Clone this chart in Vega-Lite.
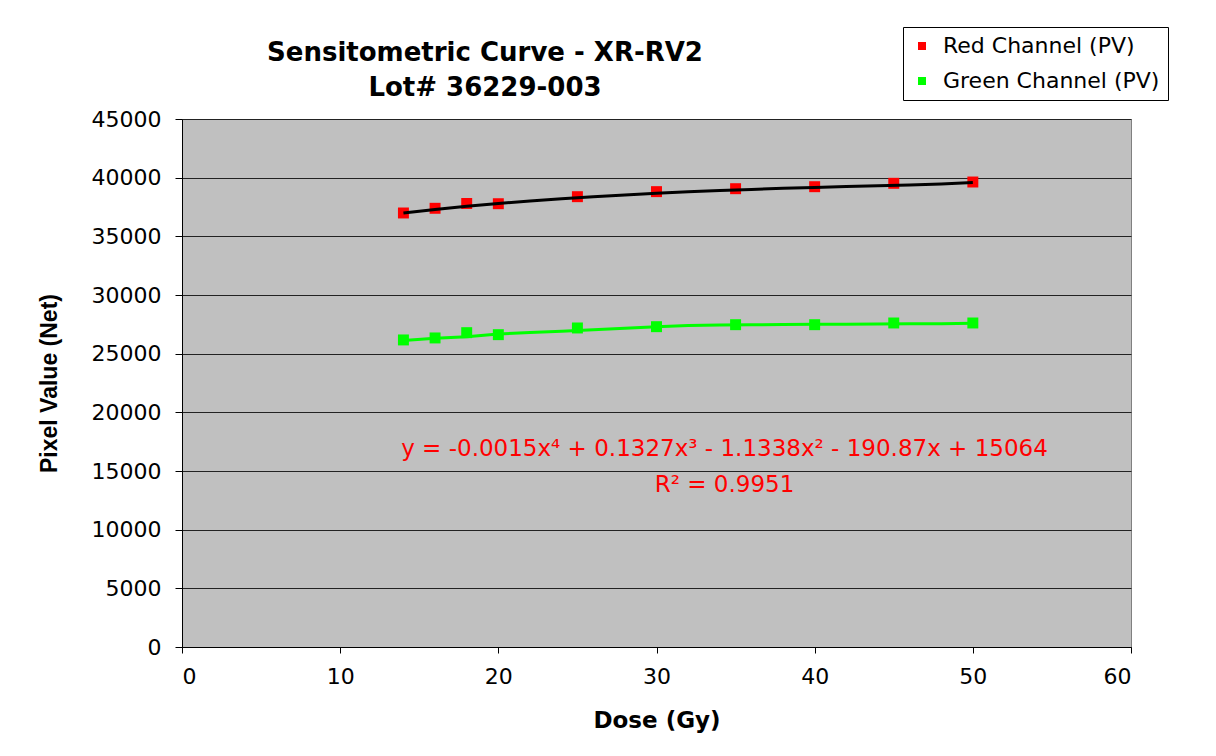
{
  "$schema": "https://vega.github.io/schema/vega-lite/v6.json",
  "width": 949,
  "height": 528,
  "autosize": {"type": "none"},
  "padding": {"left": 182, "top": 119, "right": 85, "bottom": 109},
  "background": "white",
  "title": {
    "text": ["Sensitometric Curve - XR-RV2", "Lot# 36229-003"],
    "anchor": "start",
    "frame": "group",
    "align": "center",
    "dx": 303,
    "offset": -74,
    "font": "DejaVu Sans",
    "fontSize": 26,
    "fontWeight": "bold",
    "lineHeight": 35,
    "color": "black"
  },
  "datasets": {
    "points": [
      {"dose": 14, "pv": 36990, "channel": "Red Channel (PV)"},
      {"dose": 16, "pv": 37390, "channel": "Red Channel (PV)"},
      {"dose": 18, "pv": 37800, "channel": "Red Channel (PV)"},
      {"dose": 20, "pv": 37780, "channel": "Red Channel (PV)"},
      {"dose": 25, "pv": 38380, "channel": "Red Channel (PV)"},
      {"dose": 30, "pv": 38810, "channel": "Red Channel (PV)"},
      {"dose": 35, "pv": 39060, "channel": "Red Channel (PV)"},
      {"dose": 40, "pv": 39230, "channel": "Red Channel (PV)"},
      {"dose": 45, "pv": 39520, "channel": "Red Channel (PV)"},
      {"dose": 50, "pv": 39630, "channel": "Red Channel (PV)"},
      {"dose": 14, "pv": 26170, "channel": "Green Channel (PV)"},
      {"dose": 16, "pv": 26340, "channel": "Green Channel (PV)"},
      {"dose": 18, "pv": 26790, "channel": "Green Channel (PV)"},
      {"dose": 20, "pv": 26620, "channel": "Green Channel (PV)"},
      {"dose": 25, "pv": 27190, "channel": "Green Channel (PV)"},
      {"dose": 30, "pv": 27300, "channel": "Green Channel (PV)"},
      {"dose": 35, "pv": 27470, "channel": "Green Channel (PV)"},
      {"dose": 40, "pv": 27470, "channel": "Green Channel (PV)"},
      {"dose": 45, "pv": 27615, "channel": "Green Channel (PV)"},
      {"dose": 50, "pv": 27615, "channel": "Green Channel (PV)"}
    ],
    "redTrend": [
      {"dose": 14, "pv": 36990}, {"dose": 16, "pv": 37290}, {"dose": 18, "pv": 37560},
      {"dose": 20, "pv": 37800}, {"dose": 22, "pv": 38010}, {"dose": 24, "pv": 38200},
      {"dose": 26, "pv": 38370}, {"dose": 28, "pv": 38520}, {"dose": 30, "pv": 38670},
      {"dose": 32, "pv": 38800}, {"dose": 34, "pv": 38910}, {"dose": 36, "pv": 39000},
      {"dose": 38, "pv": 39100}, {"dose": 40, "pv": 39170}, {"dose": 42, "pv": 39250},
      {"dose": 44, "pv": 39310}, {"dose": 46, "pv": 39380}, {"dose": 48, "pv": 39460},
      {"dose": 50, "pv": 39590}
    ],
    "greenTrend": [
      {"dose": 14, "pv": 26120}, {"dose": 16, "pv": 26310}, {"dose": 18, "pv": 26450},
      {"dose": 20, "pv": 26680}, {"dose": 22, "pv": 26800}, {"dose": 24, "pv": 26910},
      {"dose": 26, "pv": 27040}, {"dose": 28, "pv": 27160}, {"dose": 30, "pv": 27300},
      {"dose": 32, "pv": 27400}, {"dose": 34, "pv": 27440}, {"dose": 36, "pv": 27460},
      {"dose": 38, "pv": 27480}, {"dose": 40, "pv": 27500}, {"dose": 42, "pv": 27510},
      {"dose": 44, "pv": 27525}, {"dose": 46, "pv": 27540}, {"dose": 48, "pv": 27560},
      {"dose": 50, "pv": 27590}
    ],
    "notes": [
      {"dose": 34.3, "pv": 16876, "label": "y = -0.0015x⁴ + 0.1327x³ - 1.1338x² - 190.87x + 15064"},
      {"dose": 34.3, "pv": 13807, "label": "R² = 0.9951"}
    ]
  },
  "encoding": {
    "x": {
      "field": "dose", "type": "quantitative",
      "scale": {"domain": [0, 60], "nice": false},
      "axis": {
        "title": "Dose (Gy)",
        "values": [0, 10, 20, 30, 40, 50, 60],
        "grid": false,
        "labelPadding": 13,
        "titlePadding": 22
      }
    },
    "y": {
      "field": "pv", "type": "quantitative",
      "scale": {"domain": [0, 45000], "nice": false},
      "axis": {
        "title": "Pixel Value (Net)",
        "values": [0, 5000, 10000, 15000, 20000, 25000, 30000, 35000, 40000, 45000],
        "format": "d",
        "grid": true,
        "tickSize": 7,
        "labelPadding": 14,
        "titlePadding": 30,
        "titleFont": "Liberation Sans",
        "titleFontSize": 23
      }
    }
  },
  "layer": [
    {
      "data": {"name": "points"},
      "mark": {"type": "point", "shape": "square", "filled": true, "size": 120, "opacity": 1},
      "encoding": {
        "color": {
          "field": "channel", "type": "nominal",
          "scale": {"domain": ["Red Channel (PV)", "Green Channel (PV)"], "range": ["#FF0000", "#00FF00"]},
          "legend": {
            "title": null,
            "orient": "none",
            "legendX": 721,
            "legendY": -92,
            "direction": "vertical",
            "strokeColor": "black",
            "fillColor": "white",
            "padding": 8,
            "rowPadding": 13,
            "symbolType": "square",
            "symbolSize": 64,
            "symbolStrokeWidth": 0,
            "symbolOpacity": 1,
            "labelFont": "DejaVu Sans",
            "labelFontSize": 22,
            "labelColor": "black",
            "labelOffset": 10,
            "labelLimit": 400
          }
        }
      }
    },
    {
      "data": {"name": "redTrend"},
      "mark": {"type": "line", "color": "black", "strokeWidth": 3}
    },
    {
      "data": {"name": "greenTrend"},
      "mark": {"type": "line", "color": "#00FF00", "strokeWidth": 3}
    },
    {
      "data": {"name": "notes"},
      "mark": {"type": "text", "color": "#FF0000", "font": "DejaVu Sans", "fontSize": 23, "align": "center", "baseline": "middle"},
      "encoding": {"text": {"field": "label"}}
    }
  ],
  "config": {
    "view": {"fill": "#C0C0C0", "stroke": "#808080", "strokeWidth": 1},
    "axis": {
      "domainColor": "black",
      "domainWidth": 1,
      "tickColor": "black",
      "tickSize": 6,
      "gridColor": "#222222",
      "gridWidth": 1,
      "gridOpacity": 1,
      "labelFont": "DejaVu Sans",
      "labelFontSize": 22,
      "labelColor": "black",
      "titleFont": "DejaVu Sans",
      "titleFontSize": 23,
      "titleFontWeight": "bold",
      "titleColor": "black"
    }
  }
}
